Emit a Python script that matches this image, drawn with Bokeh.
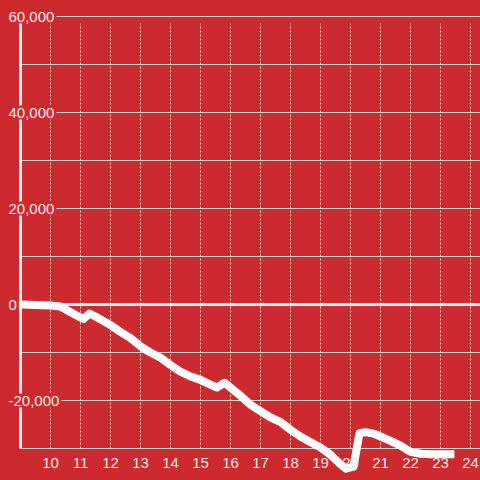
from bokeh.plotting import figure
from bokeh.models import Range1d
from bokeh.core.properties import value
from bokeh.embed import file_html
from bokeh.resources import INLINE

# ---- data ----
hours = [9.0, 9.5, 10.0, 10.33, 10.67, 11.0, 11.1, 11.3, 11.5, 12.0, 12.33, 12.67,
         13.0, 13.33, 13.67, 14.0, 14.33, 14.67, 15.0, 15.33, 15.55, 15.8, 16.0,
         16.33, 16.67, 17.0, 17.33, 17.67, 18.0, 18.33, 18.67, 19.0, 19.33, 19.67,
         19.85, 20.1, 20.3, 20.5, 20.77, 21.0, 21.33, 21.67, 22.0, 22.33, 22.67,
         23.0, 23.33]
balance = [0, -100, -200, -400, -1600, -2700, -3000, -1900, -2500, -4300, -5700, -7000,
           -8700, -10000, -11100, -12600, -14000, -15000, -15700, -16700, -17300, -16300, -17300,
           -19000, -20900, -22200, -23500, -24500, -26100, -27500, -28700, -29800, -31300, -33300,
           -34200, -33800, -26800, -26600, -26900, -27500, -28400, -29400, -30700, -31100, -31200,
           -31200, -31200]

x_ticks = [10, 11, 12, 13, 14, 15, 16, 17, 18, 19, 20, 21, 22, 23, 24]
x_tick_labels = [str(t) for t in x_ticks]
y_grid = [-30000, -20000, -10000, 10000, 20000, 30000, 40000, 50000, 60000]
y_ticks = [-20000, 0, 20000, 40000, 60000]
y_tick_labels = ["-20,000", "0", "20,000", "40,000", "60,000"]

BG = "#cc2a2f"
TXT = "#f3e9e9"
FONT = value("Liberation Sans")

W = H = 480
x0 = 9 - 20 / 30.0
x1 = x0 + W / 30.0
y1 = 304 / 0.0048
y0 = y1 - H / 0.0048

p = figure(width=W, height=H, output_backend="svg", toolbar_location=None,
           x_range=Range1d(x0, x1), y_range=Range1d(y0, y1),
           x_axis_location=None, y_axis_location=None,
           background_fill_color=BG, border_fill_color=BG,
           min_border=0, outline_line_color=None)
p.grid.visible = False

xmin_axis = x_ticks[0] - 1
ytop = y_grid[-1]
ybot = y_grid[0]

# horizontal solid grid
p.segment(x0=[xmin_axis] * len(y_grid), x1=[x1] * len(y_grid), y0=y_grid, y1=y_grid,
          line_color="#d4d4d4", line_width=1)
# vertical dotted grid
p.segment(x0=x_ticks, x1=x_ticks, y0=[ybot] * len(x_ticks), y1=[ytop - 1500] * len(x_ticks),
          line_color="#e4e4e4", line_width=1, line_dash="2 2")
# zero line
p.segment(x0=[xmin_axis], x1=[x1], y0=[0], y1=[0], line_color="#f6f2f2", line_width=3)
# y axis line
p.segment(x0=[xmin_axis], x1=[xmin_axis], y0=[ybot], y1=[ytop], line_color="#f6f2f2", line_width=3)

# series
p.line(hours, balance, line_color="white", line_width=8, line_join="round", line_cap="square")

# y tick labels (with background covering axis)
p.text(x=[x0] * len(y_ticks), y=y_ticks, text=y_tick_labels, text_font=FONT,
       text_font_size="15px", text_color=TXT, text_align="left", text_baseline="middle",
       x_offset=6, background_fill_color=BG, padding=2)
# x tick labels
p.text(x=x_ticks, y=[ybot] * len(x_ticks), text=x_tick_labels, text_font=FONT,
       text_font_size="15px", text_color=TXT, text_align="center", text_baseline="middle",
       y_offset=14)

html = file_html(p, INLINE)
html = html.replace("</head>", "<style>html,body{background:%s;}</style></head>" % BG, 1)
open("out.html", "w").write(html)
